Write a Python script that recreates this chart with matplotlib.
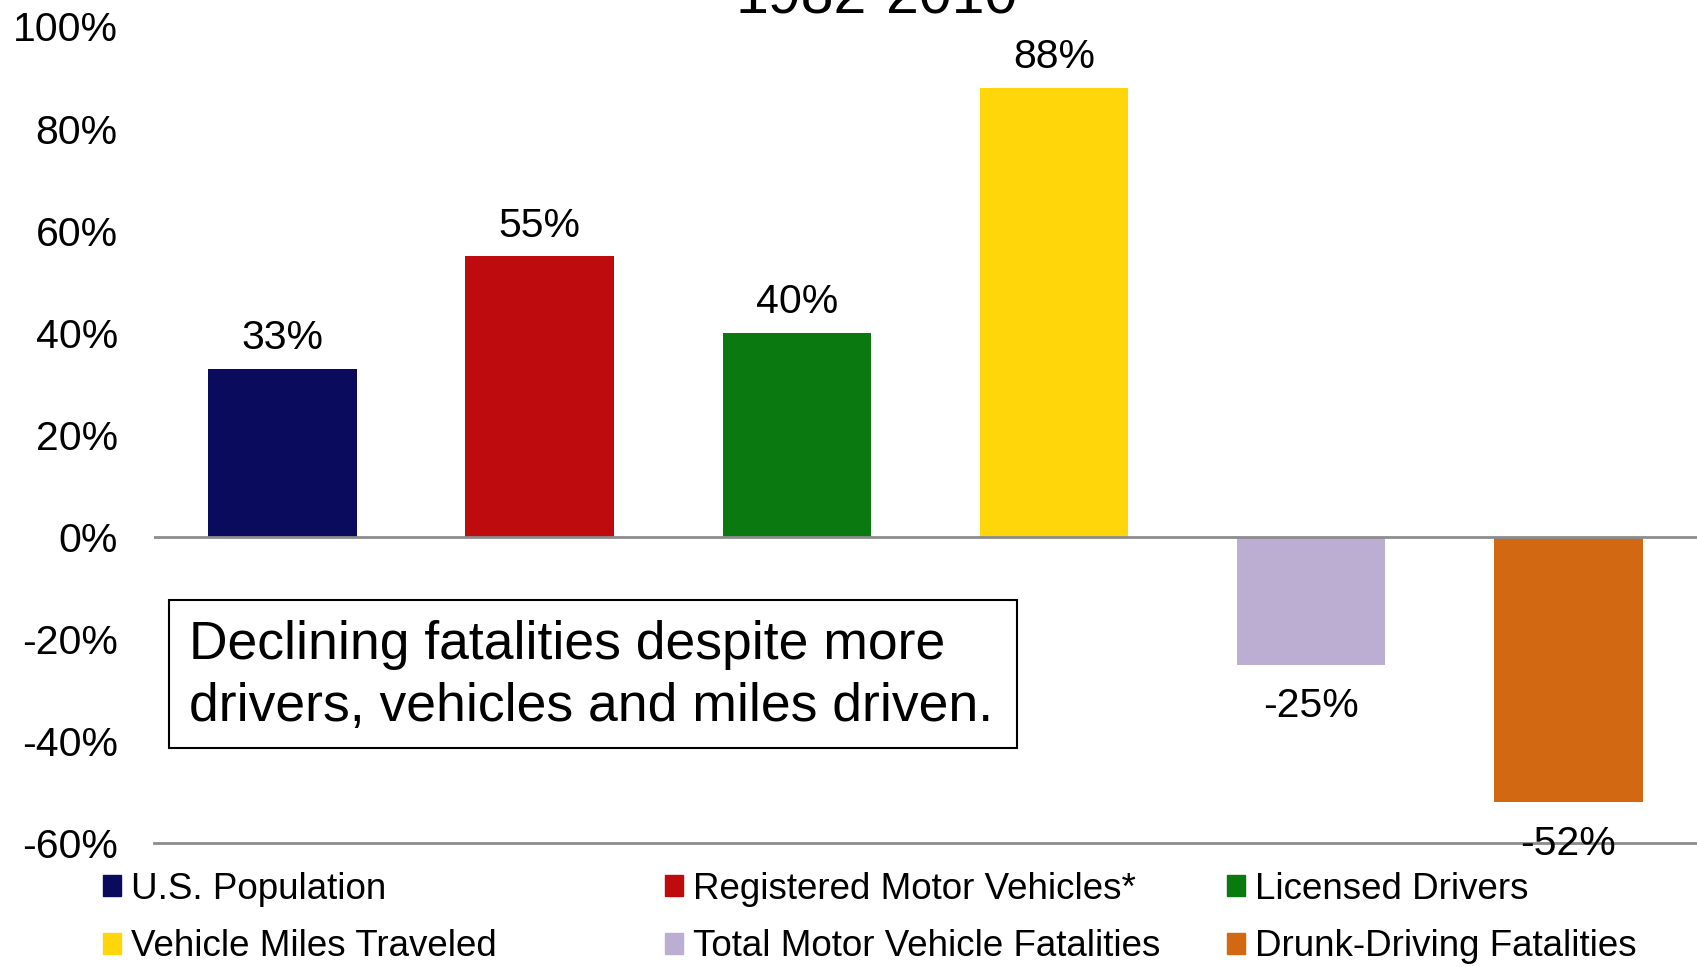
import matplotlib.pyplot as plt
from matplotlib.patches import Patch, Rectangle

plt.rcParams['font.family'] = ['Liberation Sans', 'DejaVu Sans']

# data
categories = ['U.S. Population', 'Registered Motor Vehicles*', 'Licensed Drivers',
              'Vehicle Miles Traveled', 'Total Motor Vehicle Fatalities',
              'Drunk-Driving Fatalities']
values = [33, 55, 40, 88, -25, -52]
colors = ['#0b0b5e', '#be0b0d', '#0a7a10', '#ffd60a', '#bcadd3', '#d36812']
yticks = [-60, -40, -20, 0, 20, 40, 60, 80, 100]
title = '1982-2010'
note = 'Declining fatalities despite more\ndrivers, vehicles and miles driven.'

fig = plt.figure(figsize=(16.97, 9.67), dpi=100)
ax = fig.add_axes([0.0907, 0.128, 0.9093, 0.8446])

bars = ax.bar(range(len(values)), values, width=0.577, color=colors)
ax.set_xlim(-0.5, len(values) - 0.5)
ax.set_ylim(-60, 100)
ax.set_yticks(yticks)
ax.set_yticklabels([f'{v}%' for v in yticks], fontsize=29.5)
ax.tick_params(axis='y', length=0, pad=26)
ax.set_xticks([])
for s in ['left', 'top', 'right']:
    ax.spines[s].set_visible(False)
ax.spines['bottom'].set_color('#8c8c8c')
ax.spines['bottom'].set_linewidth(2)
ax.axhline(0, color='#8c8c8c', lw=2, zorder=3)

for i, v in enumerate(values):
    if v >= 0:
        ax.annotate(f'{v}%', (i, v), xytext=(0, 14), textcoords='offset points',
                    ha='center', va='baseline', fontsize=29.5)
    else:
        ax.annotate(f'{v}%', (i, v), xytext=(0, -16), textcoords='offset points',
                    ha='center', va='top', fontsize=29.5)

fig.text(877 / 1697, 1 - 13 / 967, title, ha='center', va='baseline', fontsize=42.5)

# note box
fig.patches.append(Rectangle((169 / 1697, 1 - 748 / 967), 848 / 1697, 148 / 967,
                             transform=fig.transFigure, fc='white', ec='black',
                             lw=1.5, zorder=4))
fig.text(189 / 1697, 1 - 676 / 967, note, ha='left', va='center', fontsize=38.5,
         linespacing=1.3, zorder=5)

# legend, laid out row by row in three columns
handles = [Patch(color=c) for c in colors]
col_x = [103, 665, 1227]
for k in range(3):
    fig.legend([handles[k], handles[k + 3]], [categories[k], categories[k + 3]],
               loc='upper left', bbox_to_anchor=(col_x[k] / 1697, 1 - 872 / 967),
               frameon=False, fontsize=26.5, handlelength=0.5, handleheight=0.5,
               handletextpad=0.25, labelspacing=0.6, borderpad=0, borderaxespad=0)

fig.savefig('out.png', dpi=100)
